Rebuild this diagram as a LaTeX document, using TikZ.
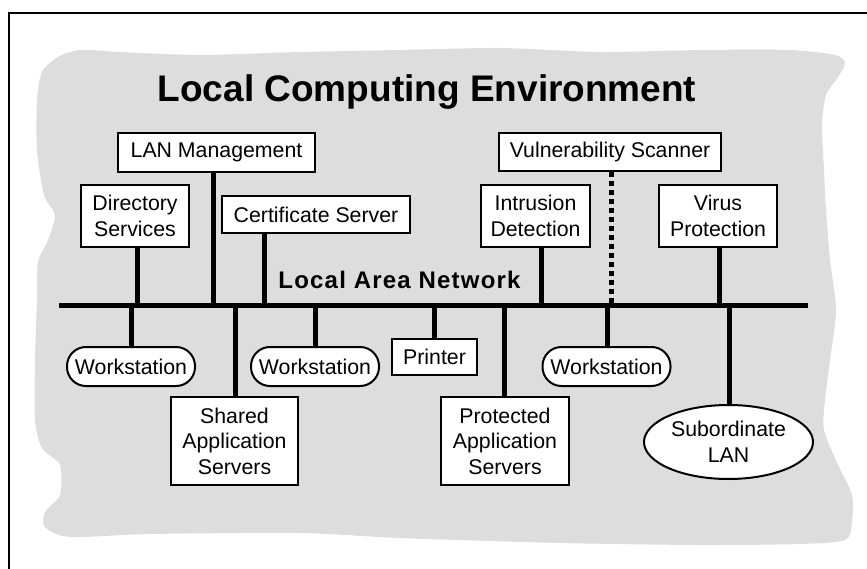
\documentclass[tikz,border=0pt]{standalone}
\usepackage{fontspec}
\setmainfont{Liberation Sans}
\newfontfamily\lanfont[LetterSpace=5]{Liberation Sans}
\usetikzlibrary{shapes.geometric}
\definecolor{blobgray}{RGB}{221,221,221}
\begin{document}
\begin{tikzpicture}[x=1pt,y=-1pt,
  box/.style={draw=black, line width=2pt, fill=white, align=center, inner sep=0pt,
    font=\fontsize{21.3}{25.5}\selectfont},
  ws/.style={box, rounded corners=19pt, minimum width=128pt, minimum height=39pt},
  conn/.style={line width=5pt},
  dotconn/.style={line width=5pt, dash pattern=on 5pt off 4pt},
]
\useasboundingbox (0,0) rectangle (867,569);
% frame
\draw[line width=2pt] (9,569) -- (9,13) -- (867,13);
% gray cloud
\fill[blobgray] plot[smooth cycle, tension=0.45] coordinates {
 (42,72) (58,57) (80,50) (120,52) (200,55) (300,52) (400,50) (500,48) (600,52)
 (700,50) (790,50) (835,55) (845,63) (838,77) (826,95) (822,125) (824,170)
 (826,210) (830,260) (836,310) (830,360) (825,400) (824,430) (838,465)
 (852,495) (852,522) (845,540) (800,544) (700,545) (560,543) (400,538)
 (300,533) (150,534) (70,537) (45,527) (45,512) (60,495) (60,465) (42,448)
 (35,420) (35,360) (37,300) (38,262) (48,240) (55,215) (44,195) (37,150) (37,100)};
% title
\node[font=\bfseries\fontsize{37}{41}\selectfont, anchor=base, inner sep=0pt] (title) at (427,102) {Local Computing Environment};
% bus
\coordinate (busL) at (59,305.5);
\coordinate (busR) at (808,305.5);
\node[font=\lanfont\bfseries\fontsize{24}{28}\selectfont, anchor=base, inner sep=0pt] (lanlabel) at (399.5,288) {Local Area Network};
% tap points
\coordinate (tdir) at (137,305.5);
\coordinate (tlan) at (213,305.5);
\coordinate (tcert) at (264,305.5);
\coordinate (tids) at (541,305.5);
\coordinate (tvuln) at (611.5,305.5);
\coordinate (tvirus) at (719,305.5);
\coordinate (tws1) at (131,305.5);
\coordinate (tshared) at (235,305.5);
\coordinate (tws2) at (315,305.5);
\coordinate (tprn) at (434,305.5);
\coordinate (tprot) at (504.5,305.5);
\coordinate (tws3) at (607,305.5);
\coordinate (tsub) at (729,305.5);
% nodes
\node[box, minimum width=197pt, minimum height=39pt] (lan) at (216.5,152.5) {LAN Management};
\node[box, minimum width=108pt, minimum height=62pt] (dir) at (135,216) {Directory\\Services};
\node[box, minimum width=188pt, minimum height=37pt] (cert) at (316,214.5) {Certificate Server};
\node[box, minimum width=222pt, minimum height=38pt] (vuln) at (610,152) {Vulnerability Scanner};
\node[box, minimum width=109pt, minimum height=62pt] (ids) at (535.5,216) {Intrusion\\Detection};
\node[box, minimum width=118pt, minimum height=62pt] (virus) at (718,216) {Virus\\Protection};
\node[ws] (ws1) at (131,366.5) {Workstation};
\node[ws] (ws2) at (315,366.5) {Workstation};
\node[ws] (ws3) at (606.5,366.5) {Workstation};
\node[box, minimum width=85pt, minimum height=36pt] (prn) at (434.5,357) {Printer};
\node[box, minimum width=127pt, minimum height=88pt] (shared) at (234.5,441) {Shared\\Application\\Servers};
\node[box, minimum width=128pt, minimum height=88pt] (prot) at (505,441) {Protected\\Application\\Servers};
\node[box, ellipse, minimum width=169pt, minimum height=74pt] (sub) at (728.5,442) {Subordinate\\LAN};
% connectors
\draw[conn] (busL) -- (busR);
\draw[conn] (dir.south -| tdir) -- (tdir);
\draw[conn] (lan.south -| tlan) -- (tlan);
\draw[conn] (cert.south -| tcert) -- (tcert);
\draw[conn] (ids.south -| tids) -- (tids);
\draw[dotconn] (vuln.south -| tvuln) -- (tvuln);
\draw[conn] (virus.south -| tvirus) -- (tvirus);
\draw[conn] (tws1) -- (ws1.north -| tws1);
\draw[conn] (tshared) -- (shared.north -| tshared);
\draw[conn] (tws2) -- (ws2.north -| tws2);
\draw[conn] (tprn) -- (prn.north -| tprn);
\draw[conn] (tprot) -- (prot.north -| tprot);
\draw[conn] (tws3) -- (ws3.north -| tws3);
\draw[conn] (tsub) -- (sub.north -| tsub);
\end{tikzpicture}
\end{document}
